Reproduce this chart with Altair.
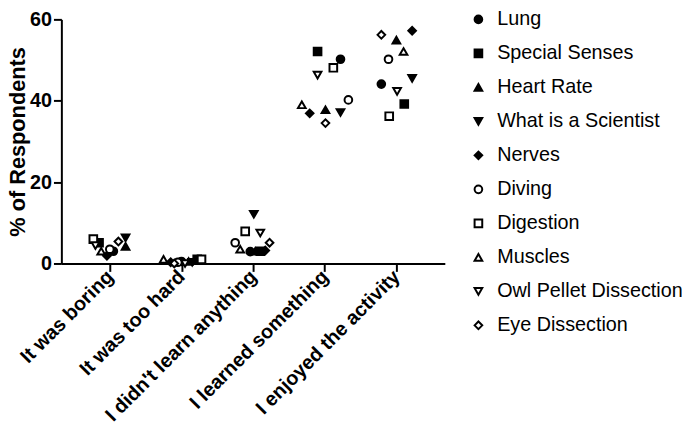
import json
import altair as alt
import pandas as pd

categories = ["It was boring", "It was too hard", "I didn't learn anything",
              "I learned something", "I enjoyed the activity"]
series = ["Lung", "Special Senses", "Heart Rate", "What is a Scientist", "Nerves",
          "Diving", "Digestion", "Muscles", "Owl Pellet Dissection", "Eye Dissection"]
shapes = ["circle", "square", "triangle-up", "triangle-down", "diamond",
          "circle", "square", "triangle-up", "triangle-down", "diamond"]
fills = ["black"] * 5 + ["white"] * 5
strokes = ["black"] * 10

# % of respondents per series, one value per category
lung = [3.0, 0.5, 2.9, 50.2, 44.1]
special_senses = [5.1, 1.0, 3.0, 52.1, 39.2]
heart_rate = [4.2, 0.5, 3.0, 37.8, 54.9]
scientist = [6.3, 0.3, 12.1, 37.1, 45.5]
nerves = [1.9, 0.3, 3.2, 36.9, 57.2]
diving = [3.5, 0.3, 5.1, 40.2, 50.2]
digestion = [6.0, 1.0, 7.9, 48.1, 36.2]
muscles = [3.0, 1.0, 3.5, 39.0, 52.1]
owl_pellet = [4.4, 0.0, 7.5, 46.3, 42.3]
eye = [5.4, 0.0, 5.1, 34.5, 56.2]

# horizontal scatter (jitter) of each point, in category-step units
jit_lung = [0.05, 0.0, -0.04, 0.22, -0.21]
jit_special = [-0.15, 0.22, 0.10, -0.10, 0.11]
jit_heart = [0.22, 0.10, 0.03, 0.01, 0.0]
jit_scientist = [0.22, 0.15, 0.01, 0.22, 0.22]
jit_nerves = [-0.04, -0.15, 0.17, -0.21, 0.22]
jit_diving = [0.0, -0.05, -0.25, 0.33, -0.11]
jit_digestion = [-0.23, 0.28, -0.11, 0.12, -0.10]
jit_muscles = [-0.12, -0.25, -0.18, -0.32, 0.10]
jit_owl = [-0.20, 0.05, 0.10, -0.10, 0.01]
jit_eye = [0.12, -0.10, 0.23, 0.01, -0.21]

values = [lung, special_senses, heart_rate, scientist, nerves,
          diving, digestion, muscles, owl_pellet, eye]
jitters = [jit_lung, jit_special, jit_heart, jit_scientist, jit_nerves,
           jit_diving, jit_digestion, jit_muscles, jit_owl, jit_eye]

rows = []
for s, vals, jits in zip(series, values, jitters):
    for i, (v, j) in enumerate(zip(vals, jits)):
        rows.append({"series": s, "cat_index": i, "jitter": j, "pct": v})
df = pd.DataFrame(rows)

label_expr = json.dumps(categories) + "[datum.value]"
FONT = "Liberation Sans"

chart = alt.Chart(df).transform_calculate(
    xpos="datum.cat_index + datum.jitter"
).mark_point(strokeWidth=2, opacity=1, size=60).encode(
    x=alt.X("xpos:Q",
            scale=alt.Scale(domain=[-0.676, 4.676], nice=False, zero=False),
            axis=alt.Axis(values=[0, 1, 2, 3, 4], labelExpr=label_expr, title=None,
                          labelAngle=-45, labelAlign="right", labelBaseline="middle",
                          labelPadding=2, labelOverlap=False, labelLimit=400,
                          labelBound=False)),
    y=alt.Y("pct:Q", scale=alt.Scale(domain=[0, 60], nice=False),
            axis=alt.Axis(values=[0, 20, 40, 60], title="% of Respondents",
                          titleFontSize=22, titleFontWeight="bold", titlePadding=0)),
    shape=alt.Shape("series:N", scale=alt.Scale(domain=series, range=shapes),
                    sort=series, legend=alt.Legend(title=None)),
    fill=alt.Fill("series:N", scale=alt.Scale(domain=series, range=fills),
                  sort=series, legend=alt.Legend(title=None)),
    stroke=alt.Stroke("series:N", scale=alt.Scale(domain=series, range=strokes),
                      sort=series, legend=alt.Legend(title=None)),
).properties(
    width=388, height=247,
    autosize=alt.AutoSizeParams(type="none"),
    padding={"left": 54, "top": 9, "right": 240, "bottom": 167},
).configure_view(stroke=None).configure_axis(
    domainColor="black", domainWidth=2, tickColor="black", tickWidth=2, tickSize=8,
    grid=False, labelFont=FONT, labelFontSize=20, labelFontWeight="bold",
    labelColor="black", titleFont=FONT, titleColor="black",
).configure_legend(
    orient="none", legendX=412, legendY=-10, padding=0,
    labelFont=FONT, labelFontSize=20, labelColor="black", labelOffset=9,
    symbolSize=60, symbolStrokeWidth=2,
    rowPadding=14.4, labelLimit=300,
)

chart.save("out.html", embed_options={"renderer": "svg", "actions": False})
